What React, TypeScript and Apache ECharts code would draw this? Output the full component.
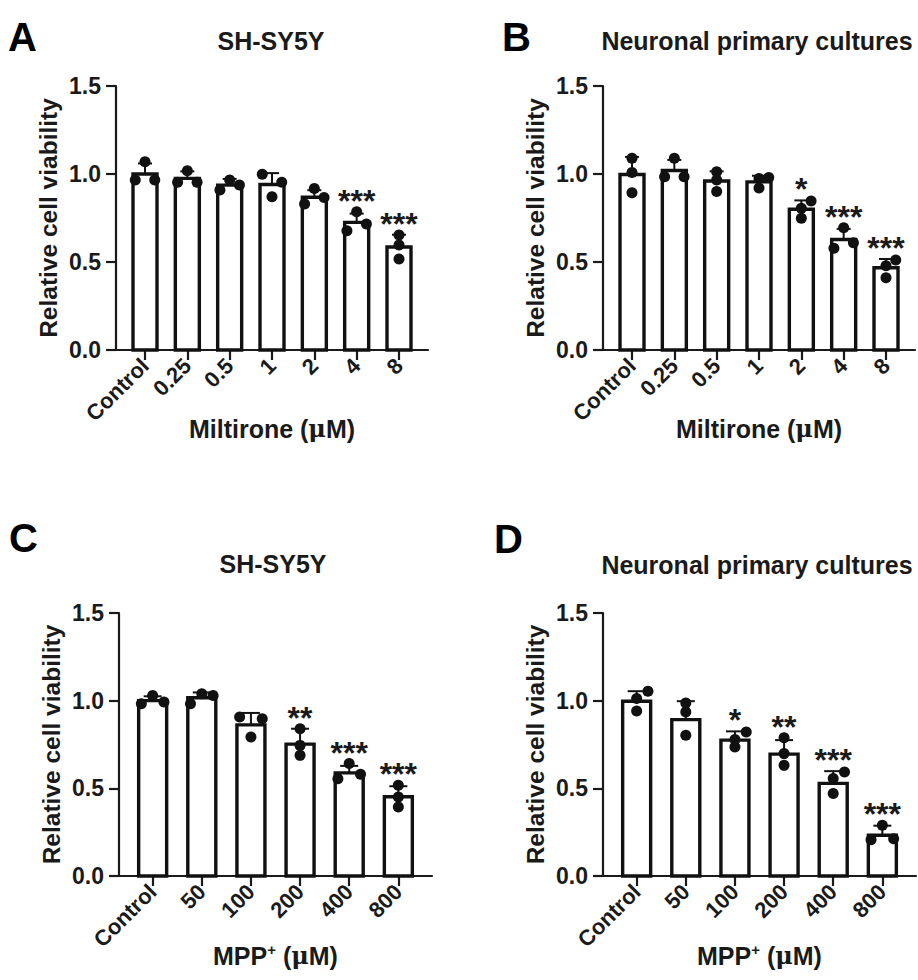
import React, { useEffect, useRef } from "react";
import * as echarts from "echarts";

// ---------- data ----------
const catsMiltirone = ["Control", "0.25", "0.5", "1", "2", "4", "8"];
const catsMPP = ["Control", "50", "100", "200", "400", "800"];
const yTicks = [0, 0.5, 1.0, 1.5];

// Panel A: SH-SY5Y, Miltirone
const meanA = [1.0, 0.975, 0.937, 0.94, 0.868, 0.725, 0.585];
const sdA = [0.06, 0.04, 0.035, 0.065, 0.04, 0.05, 0.07];
const dotsA = [
  [1.07, 0.966, 0.966],
  [1.019, 0.953, 0.953],
  [0.966, 0.909, 0.9375],
  [0.998, 0.953, 0.871],
  [0.918, 0.83, 0.866],
  [0.786, 0.678, 0.716],
  [0.653, 0.597, 0.517],
];
const sigA = ["", "", "", "", "", "***", "***"];

// Panel B: neuronal primary cultures, Miltirone
const meanB = [0.997, 1.02, 0.96, 0.955, 0.8, 0.628, 0.467];
const sdB = [0.1, 0.06, 0.055, 0.035, 0.05, 0.06, 0.05];
const dotsB = [
  [1.089, 1.008, 0.894],
  [1.089, 0.985, 0.985],
  [1.013, 0.966, 0.9],
  [0.975, 0.98, 0.92],
  [0.847, 0.805, 0.748],
  [0.695, 0.578, 0.61],
  [0.511, 0.479, 0.411],
];
const sigB = ["", "", "", "", "*", "***", "***"];

// Panel C: SH-SY5Y, MPP+
const meanC = [1.0, 1.017, 0.862, 0.752, 0.588, 0.452];
const sdC = [0.025, 0.03, 0.068, 0.088, 0.04, 0.06];
const dotsC = [
  [1.03, 0.983, 0.992],
  [1.04, 0.983, 1.03],
  [0.907, 0.897, 0.793],
  [0.84, 0.745, 0.688],
  [0.641, 0.555, 0.58],
  [0.517, 0.45, 0.394],
];
const sigC = ["", "", "", "**", "***", "***"];

// Panel D: neuronal primary cultures, MPP+
const meanD = [0.997, 0.892, 0.775, 0.695, 0.528, 0.232];
const sdD = [0.057, 0.105, 0.05, 0.08, 0.07, 0.055];
const dotsD = [
  [1.054, 1.012, 0.941],
  [0.987, 0.936, 0.803],
  [0.821, 0.778, 0.736],
  [0.789, 0.698, 0.631],
  [0.593, 0.556, 0.47],
  [0.289, 0.207, 0.213],
];
const sigD = ["", "", "*", "**", "***", "***"];

// horizontal scatter placement of replicate dots (-1 left, 0 centre, 1 right)
const jitA = [[0, -1, 1], [0, -1, 1], [0, -1, 1], [-1, 1, 0], [0, -1, 1], [0, -1, 1], [0, 0, 0]];
const jitB = [[0, 0, 0], [0, -1, 1], [0, 0, 0], [0, 1, 0], [1, 0, 0], [0, -1, 1], [1, 0, 0]];
const jitC = [[0, -1, 1], [0, -1, 1], [-1, 1, 0], [0, 0, 0], [0, -1, 1], [0, 0, 0]];
const jitD = [[1, 0, 0], [0, 0, 0], [1, 0, 0], [0, 0, 0], [1, 0, 0], [0, -1, 1]];

// ---------- styling ----------
const FONT = '"Liberation Sans", Arial, Helvetica, sans-serif';
const INK = "#1a1a1a";

type Panel = {
  letter: string;
  title: string;
  cats: string[];
  mean: number[];
  sd: number[];
  dots: number[][];
  jit: number[][];
  sig: string[];
  xName: string;
  grid: { left: number; top: number; width: number; height: number };
  barHalf: number;
  capHalf: number;
  letterPos: [number, number];
  titlePos: [number, number];
};

const panels: Panel[] = [
  {
    letter: "A", title: "SH-SY5Y", cats: catsMiltirone, mean: meanA, sd: sdA, dots: dotsA, jit: jitA, sig: sigA,
    xName: "Miltirone ({mu|μ}M)", grid: { left: 116, top: 86, width: 312, height: 264 },
    barHalf: 12, capHalf: 7, letterPos: [8, 37], titlePos: [271, 41],
  },
  {
    letter: "B", title: "Neuronal primary cultures", cats: catsMiltirone, mean: meanB, sd: sdB, dots: dotsB, jit: jitB, sig: sigB,
    xName: "Miltirone ({mu|μ}M)", grid: { left: 603, top: 86, width: 312, height: 264 },
    barHalf: 12, capHalf: 7, letterPos: [502, 37], titlePos: [757, 41],
  },
  {
    letter: "C", title: "SH-SY5Y", cats: catsMPP, mean: meanC, sd: sdC, dots: dotsC, jit: jitC, sig: sigC,
    xName: "MPP{sup|+} ({mu|μ}M)", grid: { left: 119, top: 613, width: 313, height: 263 },
    barHalf: 14, capHalf: 9, letterPos: [9, 538], titlePos: [273, 564],
  },
  {
    letter: "D", title: "Neuronal primary cultures", cats: catsMPP, mean: meanD, sd: sdD, dots: dotsD, jit: jitD, sig: sigD,
    xName: "MPP{sup|+} ({mu|μ}M)", grid: { left: 603, top: 613, width: 313, height: 263 },
    barHalf: 14, capHalf: 9, letterPos: [494, 539], titlePos: [757, 565],
  },
];

function buildOption() {
  const grid: any[] = [];
  const xAxis: any[] = [];
  const yAxis: any[] = [];
  const series: any[] = [];
  const graphic: any[] = [];

  panels.forEach((p, k) => {
    grid.push({ ...p.grid, containLabel: false });
    const idx = p.cats.map((_, i) => i);
    xAxis.push({
      type: "value",
      gridIndex: k,
      min: -0.685,
      max: p.cats.length - 1 + 0.685,
      splitLine: { show: false },
      axisLine: { show: true, onZero: false, lineStyle: { color: INK, width: 2.2 } },
      axisTick: { show: true, customValues: idx, length: 10, lineStyle: { color: INK, width: 2.2 } },
      axisLabel: {
        show: true,
        customValues: idx,
        formatter: (v: number) => p.cats[Math.round(v)] ?? "",
        rotate: 45,
        margin: 12,
        color: INK,
        fontFamily: FONT,
        fontWeight: "bold",
        fontSize: 22,
      },
      name: p.xName,
      nameLocation: "middle",
      nameGap: 66,
      nameMoveOverlap: false,
      nameTextStyle: {
        color: INK,
        fontFamily: FONT,
        fontWeight: "bold",
        fontSize: 25,
        rich: {
          sup: { fontFamily: FONT, fontWeight: "bold", fontSize: 15, verticalAlign: "top", padding: [0, 0, 12, 0], color: INK },
          mu: { fontFamily: '"DejaVu Serif", serif', fontSize: 24, color: INK },
        },
      },
    });
    yAxis.push({
      type: "value",
      gridIndex: k,
      min: 0,
      max: 1.5,
      interval: 0.5,
      splitLine: { show: false },
      axisLine: { show: true, onZero: false, lineStyle: { color: INK, width: 2.2 } },
      axisTick: { show: true, length: 10, lineStyle: { color: INK, width: 2.2 } },
      axisLabel: {
        formatter: (v: number) => (yTicks.includes(v) ? v.toFixed(1) : ""),
        color: INK,
        fontFamily: FONT,
        fontWeight: "bold",
        fontSize: 23,
        margin: 15,
      },
      name: "Relative cell viability",
      nameLocation: "middle",
      nameRotate: 90,
      nameGap: 55,
      nameMoveOverlap: false,
      nameTextStyle: { color: INK, fontFamily: FONT, fontWeight: "bold", fontSize: 24.5 },
    });

    // bars + error bars + significance
    series.push({
      type: "custom",
      xAxisIndex: k,
      yAxisIndex: k,
      z: 2,
      data: p.mean.map((m, i) => [i, m]),
      encode: { x: 0, y: 1 },
      renderItem: (params: any, api: any) => {
        const i = params.dataIndex;
        const base = api.coord([i, 0]);
        const top = api.coord([i, p.mean[i]]);
        const err = api.coord([i, p.mean[i] + p.sd[i]]);
        const dotTop = api.coord([i, Math.max(...p.dots[i])]);
        const children: any[] = [
          {
            type: "rect",
            shape: { x: top[0] - p.barHalf, y: top[1], width: 2 * p.barHalf, height: base[1] - top[1] },
            style: { fill: "#ffffff", stroke: "#111", lineWidth: 3.4 },
          },
          {
            type: "line",
            shape: { x1: top[0], y1: top[1], x2: top[0], y2: err[1] },
            style: { stroke: "#111", lineWidth: 2 },
          },
          {
            type: "line",
            shape: { x1: top[0] - p.capHalf, y1: err[1], x2: top[0] + p.capHalf, y2: err[1] },
            style: { stroke: "#111", lineWidth: 2 },
          },
        ];
        if (p.sig[i]) {
          children.push({
            type: "text",
            x: top[0],
            y: Math.min(dotTop[1], err[1]) - 11,
            style: {
              text: p.sig[i],
              textAlign: "center",
              textVerticalAlign: "middle",
              font: `bold 32px ${FONT}`,
              fill: INK,
            },
          });
        }
        return { type: "group", children };
      },
    });

    // replicate dots
    const pts: number[][] = [];
    p.dots.forEach((arr, i) => arr.forEach((v, j) => pts.push([i + p.jit[i][j] * 0.23, v])));
    series.push({
      type: "scatter",
      xAxisIndex: k,
      yAxisIndex: k,
      z: 3,
      symbol: "circle",
      symbolSize: 11,
      itemStyle: { color: "#111", opacity: 1 },
      data: pts,
    });

    graphic.push({
      type: "text",
      x: p.letterPos[0],
      y: p.letterPos[1],
      style: { text: p.letter, font: `bold 40px ${FONT}`, fill: "#000", textAlign: "left", textVerticalAlign: "middle" },
    });
    graphic.push({
      type: "text",
      x: p.titlePos[0],
      y: p.titlePos[1],
      style: { text: p.title, font: `bold 25px ${FONT}`, fill: INK, textAlign: "center", textVerticalAlign: "middle" },
    });
  });

  return {
    animation: false,
    backgroundColor: "#ffffff",
    grid,
    xAxis,
    yAxis,
    series,
    graphic,
  };
}

export default function App() {
  const ref = useRef<HTMLDivElement>(null);
  useEffect(() => {
    document.body.style.margin = "0";
    if (!ref.current) return;
    const chart = echarts.init(ref.current, undefined, { renderer: "svg" });
    chart.setOption(buildOption() as any);
    return () => chart.dispose();
  }, []);
  return <div ref={ref} style={{ width: 918, height: 980 }} />;
}
